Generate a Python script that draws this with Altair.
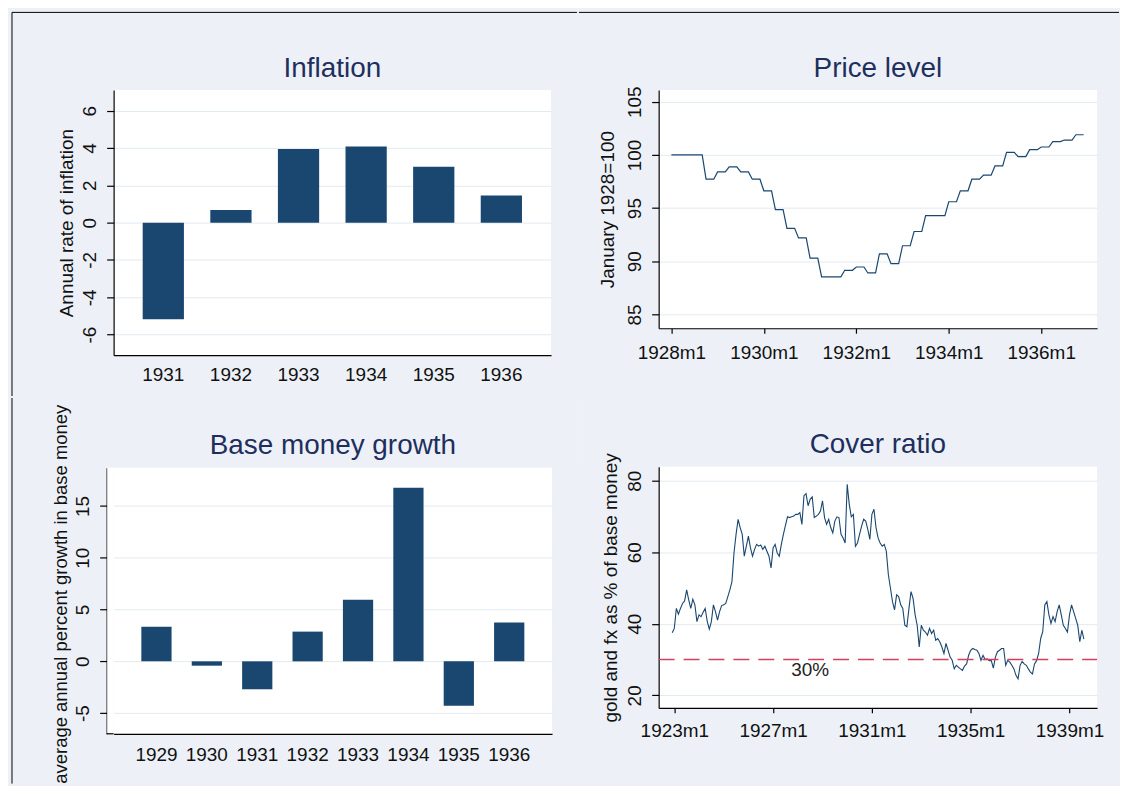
import altair as alt
import pandas as pd
import numpy as np

FONT = "Liberation Sans"
BG = "#EDF1F7"
NAVY = "#1A476F"
TITLE_C = "#1E2F5D"
GRID = "#E3EAF1"
TXT = "#111111"
REF_C = "#D6405E"

# ---------------- data ----------------
inflation_years = ["1931", "1932", "1933", "1934", "1935", "1936"]
inflation_values = [-5.18, 0.67, 3.94, 4.08, 3.00, 1.45]

base_years = ["1929", "1930", "1931", "1932", "1933", "1934", "1935", "1936"]
base_values = [3.35, -0.42, -2.70, 2.87, 5.96, 16.77, -4.28, 3.76]

# price level, quarterly readings (each quarter shown as three equal months), from 1928m1
price_quarterly = [100.0, 100.0, 100.0, 97.72, 98.40, 98.88, 98.40, 97.72,
                   96.63, 94.85, 93.10, 92.20, 90.30, 88.53, 88.53, 89.15,
                   89.46, 88.90, 90.70, 89.77, 91.46, 92.80, 94.30, 94.30,
                   95.60, 96.63, 97.72, 98.10, 98.97, 100.25, 99.84, 100.50,
                   100.75, 101.25, 101.40, 101.90]
price_months = list(range(0, 108))          # months since 1928m1

# cover ratio, monthly from 1922m12
cover_values = [
    37.5, 38.7, 44.3, 42.7, 44.3, 45.7, 46.4, 49.5, 46.7, 44.3,
    46.9, 45.3, 40.6, 42.5, 42.0, 43.2, 44.3, 40.7, 38.5, 40.6,
    45.3, 43.4, 41.0, 43.4, 45.1, 45.3, 45.7, 47.6, 49.5, 51.8,
    59.8, 65.0, 69.2, 66.9, 65.0, 58.9, 61.7, 64.5, 61.2, 58.9,
    60.8, 62.2, 61.7, 62.0, 60.8, 61.7, 60.3, 58.9, 55.6, 61.2,
    62.2, 59.8, 58.9, 62.2, 65.0, 67.5, 69.9, 69.7, 69.9, 70.1,
    70.6, 70.6, 71.1, 67.8, 75.8, 76.4, 73.0, 74.8, 75.5, 69.7,
    70.1, 70.6, 71.5, 74.4, 69.7, 67.8, 69.2, 66.9, 65.4, 68.7,
    69.9, 69.7, 65.0, 64.0, 62.6, 79.0, 73.4, 69.9, 70.6, 61.7,
    62.6, 65.0, 67.3, 69.2, 68.7, 66.4, 63.6, 70.6, 72.0, 66.9,
    64.0, 62.6, 61.7, 62.2, 60.3, 53.7, 50.0, 46.2, 43.9, 48.1,
    47.6, 45.3, 44.3, 39.6, 39.2, 44.3, 49.0, 47.1, 42.5, 39.6,
    33.5, 39.6, 38.2, 37.7, 36.8, 38.7, 37.3, 38.2, 35.4, 35.9,
    34.9, 33.5, 31.7, 34.5, 32.6, 30.7, 29.8, 27.4, 28.4, 27.9,
    27.4, 27.0, 28.2, 28.8, 31.2, 32.6, 33.1, 32.8, 32.6, 31.7,
    29.8, 31.2, 30.0, 30.2, 29.7, 29.7, 27.6, 30.7, 32.2, 32.6,
    33.1, 33.1, 28.4, 29.8, 29.3, 28.4, 27.4, 25.6, 24.6, 28.4,
    29.5, 28.8, 28.4, 27.4, 26.5, 26.0, 28.8, 29.7, 31.7, 35.9,
    37.8, 45.3, 46.2, 42.5, 40.1, 42.0, 40.6, 43.4, 45.3, 42.5,
    39.6, 38.7, 37.7, 42.5, 45.3, 43.4, 41.5, 39.6, 35.0, 38.2,
    35.7]
cover_months = list(range(-1, len(cover_values) - 1))   # months since 1923m1

cover_threshold = 30
cover_threshold_label = "30%"

# ---------------- layout (canvas px) ----------------
X_SPLIT, Y_SPLIT, CANVAS_W, CANVAS_H = 570, 387, 1112, 774
TL = dict(x=105, y=80, w=439, h=266)
TR = dict(x=650, y=80, w=440, h=239)
BL = dict(x=105, y=457, w=440, h=267)
BR = dict(x=650, y=456, w=440, h=242)
BX, BY = 3, 2
TITLE_Y = -13.5
BL_AXIS_SHIFT = 7   # base-money y axis sits a little left of its bars area

one_row = pd.DataFrame({"k": [0]})


def rule(x, y, x2=None, y2=None, color="black", width=1):
    enc = dict(x=alt.value(x), y=alt.value(y))
    if x2 is not None:
        enc["x2"] = alt.value(x2)
    if y2 is not None:
        enc["y2"] = alt.value(y2)
    return alt.Chart(one_row).mark_rule(color=color, strokeWidth=width).encode(**enc)


def title_mark(text, w):
    return alt.Chart(pd.DataFrame({"t": [text]})).mark_text(
        font=FONT, fontSize=28, color=TITLE_C, align="center", baseline="alphabetic"
    ).encode(x=alt.value(w / 2), y=alt.value(TITLE_Y), text="t:N")


def yaxis(title, values, title_x, title_y, title_align="center", title_size=19, offset=0):
    return alt.Axis(
        title=title, values=values, grid=True, gridColor=GRID, tickSize=7,
        labelAngle=270, labelAlign="center", labelBaseline="alphabetic",
        labelPadding=11, labelExpr="'' + datum.value", labelOverlap=False,
        titleAngle=270, titleX=title_x, titleY=title_y, titleAlign=title_align,
        titleBaseline="alphabetic", titleFontSize=title_size, offset=offset,
        domainColor="black", tickColor="black",
    )


# ---------------- Inflation ----------------
infl_df = pd.DataFrame({"year": inflation_years, "value": inflation_values})
infl_bars = alt.Chart(infl_df).mark_bar(color=NAVY).encode(
    x=alt.X("year:N", sort=inflation_years,
            scale=alt.Scale(paddingInner=0.39, paddingOuter=0.43),
            axis=alt.Axis(title=None, labelAngle=0, ticks=False, tickSize=0,
                          labelPadding=10, grid=False, domainColor="black")),
    y=alt.Y("value:Q", scale=alt.Scale(domain=[-7.1, 7.1], nice=False, zero=False),
            axis=yaxis("Annual rate of inflation", [-6, -4, -2, 0, 2, 4, 6], -41.3, TL["h"] / 2)),
    y2=alt.datum(0),
)
tl = alt.layer(
    infl_bars,
    rule(BX - TL["x"], BY - TL["y"], y2=Y_SPLIT - TL["y"]),
    rule(BX - TL["x"], BY - TL["y"], x2=X_SPLIT - TL["x"]),
    title_mark("Inflation", TL["w"]),
).properties(width=TL["w"], height=TL["h"])

# ---------------- Price level ----------------
price_df = pd.DataFrame({"m": price_months, "v": np.repeat(price_quarterly, 3)})
price_line = alt.Chart(price_df).mark_line(color=NAVY, strokeWidth=1.2).encode(
    x=alt.X("m:Q", scale=alt.Scale(domain=[-3.3, 110.5], nice=False, zero=False),
            axis=alt.Axis(title=None, values=[0, 24, 48, 72, 96],
                          labelExpr="(1928 + datum.value / 12) + 'm1'",
                          tickSize=5, labelPadding=10, grid=False, labelFlush=False,
                          labelOverlap=False, domainColor="black", tickColor="black")),
    y=alt.Y("v:Q", scale=alt.Scale(domain=[83.7, 106.1], nice=False, zero=False),
            axis=yaxis("January 1928=100", [85, 90, 95, 100, 105], -45.6, TR["h"] / 2)),
)
tr = alt.layer(
    price_line,
    rule(X_SPLIT - TR["x"], BY - TR["y"], x2=CANVAS_W - TR["x"]),
    title_mark("Price level", TR["w"]),
).properties(width=TR["w"], height=TR["h"])

# ---------------- Base money growth ----------------
base_df = pd.DataFrame({"year": base_years, "value": base_values})
base_bars = alt.Chart(base_df).mark_bar(color=NAVY).encode(
    x=alt.X("year:N", sort=base_years,
            scale=alt.Scale(paddingInner=0.40, paddingOuter=0.55),
            axis=alt.Axis(title=None, labelAngle=0, ticks=False, tickSize=0,
                          labelPadding=12, grid=False, domainColor="black")),
    y=alt.Y("value:Q", scale=alt.Scale(domain=[-7.0, 18.7], nice=False, zero=False),
            axis=yaxis("average annual percent growth in base money", [-5, 0, 5, 10, 15],
                       -40, -63.7, title_align="right", title_size=18.5,
                       offset=BL_AXIS_SHIFT)),
    y2=alt.datum(0),
)
bl_fill = alt.Chart(one_row).mark_rect(color="white").encode(
    x=alt.value(-BL_AXIS_SHIFT + 0.6), x2=alt.value(0), y=alt.value(0), y2=alt.value(BL["h"])
)
bl = alt.layer(
    base_bars,
    bl_fill,
    rule(-BL_AXIS_SHIFT, BL["h"], x2=0, width=1.2),
    rule(BX - BL["x"], Y_SPLIT - BL["y"], y2=CANVAS_H - BL["y"]),
    title_mark("Base money growth", BL["w"]),
).properties(width=BL["w"], height=BL["h"])

# ---------------- Cover ratio ----------------
cover_df = pd.DataFrame({"m": cover_months, "v": cover_values})
cover_line = alt.Chart(cover_df).mark_line(color=NAVY, strokeWidth=1.1).encode(
    x=alt.X("m:Q", scale=alt.Scale(domain=[-7.6, 205.4], nice=False, zero=False),
            axis=alt.Axis(title=None, values=[0, 48, 96, 144, 192],
                          labelExpr="(1923 + datum.value / 12) + 'm1'",
                          tickSize=5, labelPadding=9, grid=False, labelFlush=False,
                          labelOverlap=False, domainColor="black", tickColor="black")),
    y=alt.Y("v:Q", scale=alt.Scale(domain=[16.5, 83.9], nice=False, zero=False),
            axis=yaxis("gold and fx as % of base money", [20, 40, 60, 80], -42.3, BR["h"] / 2)),
)
ref_line = alt.Chart(one_row).mark_rule(color=REF_C, strokeDash=[16, 9], strokeWidth=1.5).encode(
    x=alt.value(0), x2=alt.value(BR["w"]), y=alt.datum(cover_threshold)
)
ref_text = alt.Chart(pd.DataFrame({"t": [cover_threshold_label]})).mark_text(
    font=FONT, fontSize=19, color="#222222", align="center", baseline="middle"
).encode(x=alt.datum(66), y=alt.datum(27.1), text="t:N")
br = alt.layer(
    cover_line, ref_line, ref_text,
    rule(X_SPLIT - BR["x"], Y_SPLIT - BR["y"], y2=0, color=BG),
    rule(X_SPLIT - BR["x"], Y_SPLIT - BR["y"], x2=0, color=BG),
    title_mark("Cover ratio", BR["w"]),
).properties(width=BR["w"], height=BR["h"])

chart = alt.concat(
    tl, tr, bl, br, columns=2, spacing=0, align="none", bounds="full",
    padding={"left": BX, "top": BY, "right": 0, "bottom": 0}, background=BG,
).configure_view(fill="white", strokeWidth=0).configure_axis(
    labelFont=FONT, titleFont=FONT, labelFontSize=19, titleFontSize=19,
    labelColor=TXT, titleColor=TXT, titleFontWeight="normal",
    domainWidth=1.2, tickWidth=1.2,
)

chart.save("out.html", embed_options={"renderer": "svg", "actions": False})
